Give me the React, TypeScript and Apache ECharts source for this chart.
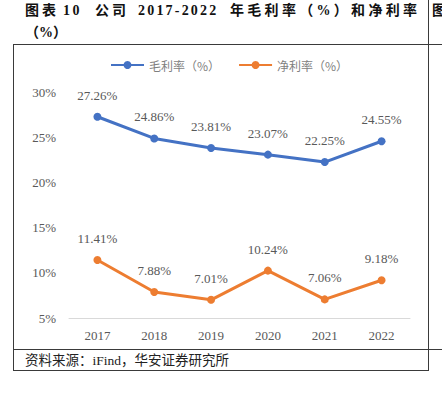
import React, { useEffect, useRef } from "react";
import * as echarts from "echarts";

const years = ["2017", "2018", "2019", "2020", "2021", "2022"];
const grossMargin = [27.26, 24.86, 23.81, 23.07, 22.25, 24.55];
const netMargin = [11.41, 7.88, 7.01, 10.24, 7.06, 9.18];
const seriesNames = ["毛利率（%）", "净利率（%）"];
const titleWords = ["图表", "10", "公司", "2017-2022", "年毛利率（%）和净利率"];
const titleLine2 = "（%）";
const sourceText = "资料来源：iFind，华安证券研究所";

const numFont = "'Liberation Serif', 'DejaVu Serif', serif";
const cjkFont = "'Noto Sans CJK SC', sans-serif";

export default function App() {
  const ref = useRef<HTMLDivElement>(null);
  useEffect(() => {
    if (!ref.current) return;
    const chart = echarts.init(ref.current, undefined, { renderer: "svg" });
    const labelFmt = (p: any) => `${Number(p.value).toFixed(2)}%`;
    chart.setOption({
      animation: false,
      backgroundColor: "transparent",
      legend: {
        top: 54,
        left: 105,
        itemWidth: 33,
        itemHeight: 10,
        itemGap: 18,
        textStyle: { color: "#7f7f7f", fontSize: 12, fontFamily: cjkFont },
        data: seriesNames,
      },
      grid: { left: 69, right: 32, top: 92, bottom: 76 },
      xAxis: {
        type: "category",
        data: years,
        boundaryGap: true,
        axisLine: { show: true, lineStyle: { color: "#d9d9d9", width: 1 } },
        axisTick: { show: false },
        axisLabel: { color: "#595959", fontSize: 13, fontFamily: numFont, margin: 11 },
      },
      yAxis: {
        type: "value",
        min: 5,
        max: 30,
        interval: 5,
        axisLine: { show: false },
        axisTick: { show: false },
        splitLine: { show: false },
        axisLabel: {
          color: "#595959",
          fontSize: 13,
          fontFamily: numFont,
          margin: 13,
          formatter: (v: number) => `${v}%`,
        },
      },
      series: [
        {
          name: seriesNames[0],
          type: "line",
          data: grossMargin,
          symbol: "circle",
          symbolSize: 8,
          itemStyle: { color: "#4472C4" },
          lineStyle: { color: "#4472C4", width: 3 },
          label: {
            show: true,
            position: "top",
            distance: 11,
            color: "#595959",
            fontSize: 13,
            fontFamily: numFont,
            formatter: labelFmt,
          },
        },
        {
          name: seriesNames[1],
          type: "line",
          data: netMargin,
          symbol: "circle",
          symbolSize: 8,
          itemStyle: { color: "#ED7D31" },
          lineStyle: { color: "#ED7D31", width: 3 },
          label: {
            show: true,
            position: "top",
            distance: 11,
            color: "#595959",
            fontSize: 13,
            fontFamily: numFont,
            formatter: labelFmt,
          },
        },
      ],
    });
    return () => chart.dispose();
  }, []);

  const line = "#3a3a3a";
  const titleStyle: React.CSSProperties = {
    position: "absolute",
    top: 0,
    lineHeight: "22px",
    fontSize: 14,
    fontWeight: "bold",
    fontFamily: "'Liberation Serif', 'Noto Sans CJK SC', serif",
    color: "#111",
    whiteSpace: "pre",
  };
  const wordLeft = [25, 63, 95, 138, 230];
  const wordSpacing = [3, 2.5, 3, 2.2, 3.3];
  return (
    <div
      style={{
        position: "fixed",
        left: 0,
        top: 0,
        width: 442,
        height: 394,
        overflow: "hidden",
        background: "#fff",
      }}
    >
      <div ref={ref} style={{ position: "absolute", left: 0, top: 0, width: 442, height: 394 }} />
      {/* frame lines */}
      <div style={{ position: "absolute", left: 13, top: 44, width: 429, height: 1, background: line }} />
      <div style={{ position: "absolute", left: 13, top: 349, width: 429, height: 1, background: line }} />
      <div style={{ position: "absolute", left: 13, top: 370, width: 416, height: 1, background: line }} />
      <div style={{ position: "absolute", left: 13, top: 44, width: 1, height: 327, background: line }} />
      <div style={{ position: "absolute", left: 428, top: 0, width: 1, height: 371, background: line }} />
      {/* title */}
      {titleWords.map((w, i) => (
        <div key={i} style={{ ...titleStyle, left: wordLeft[i], letterSpacing: `${wordSpacing[i]}px` }}>
          {w}
        </div>
      ))}
      <div style={{ ...titleStyle, left: 25, top: 22 }}>{titleLine2}</div>
      <div style={{ ...titleStyle, left: 432 }}>图</div>
      {/* source */}
      <div
        style={{
          position: "absolute",
          left: 25,
          top: 351,
          lineHeight: "19px",
          fontSize: 13.5,
          fontFamily: "'Liberation Serif', 'Noto Sans CJK SC', serif",
          color: "#222",
          whiteSpace: "nowrap",
        }}
      >
        {sourceText}
      </div>
    </div>
  );
}
